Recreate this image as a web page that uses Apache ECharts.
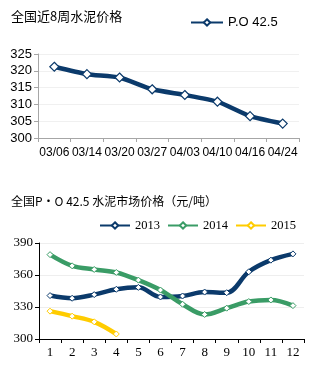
<!DOCTYPE html>
<html><head><meta charset="utf-8">
<script src="https://cdn.jsdelivr.net/npm/echarts@6/dist/echarts.min.js"></script>
<style>html,body{margin:0;padding:0;background:#fff}#c{width:324px;height:370px}</style>
</head><body><div id="c"></div>
<script>
const weeks = ['03/06','03/14','03/20','03/27','04/03','04/10','04/16','04/24'];
const po425 = [321.2, 319, 318, 314.5, 312.8, 310.8, 306.5, 304.3];
const months = ['1','2','3','4','5','6','7','8','9','10','11','12'];
const y2013 = [340.7, 338.2, 341.6, 346.6, 348.4, 339.4, 340.3, 344, 343.4, 363, 373.9, 379.8];
const y2014 = [379.1, 368.6, 365.2, 362.4, 355.2, 345.9, 332.6, 323, 328.9, 335.1, 336.6, 331.3];
const y2015 = [326.1, 321.4, 316.1, 304.7];
const topTicks = [300, 305, 310, 315, 320, 325];
const botTicks = [300, 330, 360, 390];

const navy = '#0b3a6b', green = '#3a9c66', yellow = '#ffcc00';
const axisLine = {show: true, lineStyle: {color: '#a6a6a6', width: 1}};
const cjk = '"Noto Sans CJK SC", sans-serif';
const chart = echarts.init(document.getElementById('c'));
chart.setOption({
  animation: false,
  title: [
    {text: '全国近8周水泥价格', left: 6, top: 5, textStyle: {fontFamily: cjk, fontSize: 13, fontWeight: 'normal', color: '#000'}},
    {text: '全国P·O 42.5 水泥市场价格（元/吨）', left: 6, top: 190, textStyle: {fontFamily: cjk, fontSize: 12, fontWeight: 'normal', color: '#000'}}
  ],
  legend: [
    {data: ['P.O 42.5'], left: 185, top: 11, itemWidth: 32, itemHeight: 8, itemGap: 4,
     textStyle: {fontFamily: 'Liberation Sans', fontSize: 13, color: '#000'}},
    {data: ['2013', '2014', '2015'], left: 94, top: 214, itemWidth: 30, itemHeight: 8, itemGap: 7,
     textStyle: {fontFamily: 'Liberation Serif', fontSize: 12.5, color: '#000'}}
  ],
  grid: [
    {left: 38, top: 54, width: 261, height: 84},
    {left: 39, top: 243, width: 265, height: 96}
  ],
  xAxis: [
    {type: 'category', gridIndex: 0, data: weeks, boundaryGap: true, axisLine: axisLine,
     axisTick: {show: true, alignWithLabel: false, length: 4, lineStyle: {color: '#a6a6a6'}},
     axisLabel: {fontFamily: 'Liberation Sans', fontSize: 12, color: '#000', margin: 9, interval: 0}},
    {type: 'category', gridIndex: 1, data: months, boundaryGap: true, axisLine: {show: true, lineStyle: {color: '#000', width: 1}},
     axisTick: {show: true, length: 4, lineStyle: {color: '#000'}},
     axisLabel: {fontFamily: 'Liberation Serif', fontSize: 13, color: '#000', margin: 7, interval: 0}}
  ],
  yAxis: [
    {type: 'value', gridIndex: 0, min: topTicks[0], max: topTicks[topTicks.length-1], interval: 5,
     axisLine: axisLine, axisTick: {show: true, length: 4, lineStyle: {color: '#a6a6a6'}},
     splitLine: {show: true, lineStyle: {color: '#f0f0f0'}},
     axisLabel: {fontFamily: 'Liberation Sans', fontSize: 13, color: '#000', margin: 6}},
    {type: 'value', gridIndex: 1, min: botTicks[0], max: botTicks[botTicks.length-1], interval: 30,
     axisLine: {show: true, lineStyle: {color: '#000', width: 1}}, axisTick: {show: true, length: 4, lineStyle: {color: '#000'}},
     splitLine: {show: true, lineStyle: {color: '#eeeeee'}},
     axisLabel: {fontFamily: 'Liberation Serif', fontSize: 13, color: '#000', margin: 6}}
  ],
  series: [
    {name: 'P.O 42.5', type: 'line', xAxisIndex: 0, yAxisIndex: 0, data: po425, smooth: 0.2,
     symbol: 'diamond', symbolSize: 9, lineStyle: {color: navy, width: 4.5},
     itemStyle: {color: '#fff', borderColor: navy, borderWidth: 1.2}},
    {name: '2013', type: 'line', xAxisIndex: 1, yAxisIndex: 1, data: y2013, smooth: 0.35,
     symbol: 'diamond', symbolSize: 6, lineStyle: {color: navy, width: 4.5},
     itemStyle: {color: '#fff', borderColor: navy, borderWidth: 1}},
    {name: '2014', type: 'line', xAxisIndex: 1, yAxisIndex: 1, data: y2014, smooth: 0.35,
     symbol: 'diamond', symbolSize: 6, lineStyle: {color: green, width: 4.5},
     itemStyle: {color: '#fff', borderColor: green, borderWidth: 1}},
    {name: '2015', type: 'line', xAxisIndex: 1, yAxisIndex: 1, data: y2015, smooth: 0.35,
     symbol: 'diamond', symbolSize: 6, lineStyle: {color: yellow, width: 4.5},
     itemStyle: {color: '#fff', borderColor: yellow, borderWidth: 1}}
  ]
});
</script></body></html>
